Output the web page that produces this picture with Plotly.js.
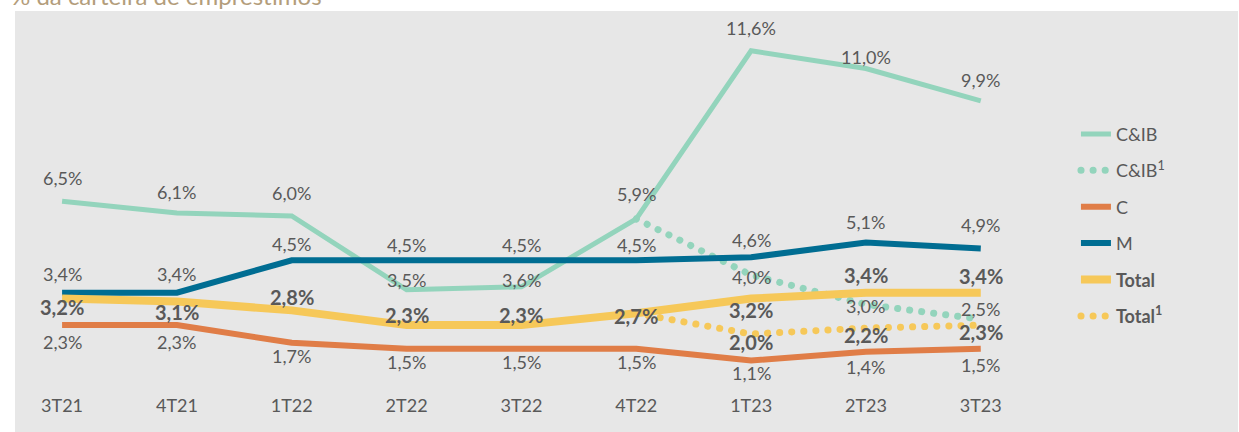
<!DOCTYPE html>
<html>
<head>
<meta charset="utf-8">
<script src="https://cdn.plot.ly/plotly-3.0.1.min.js"></script>
<style>html,body{margin:0;padding:0;background:#fff;}#chart{width:1239px;height:432px;}</style>
</head>
<body>
<div id="chart"></div>
<script>
// ---- data ----
const categories = ['3T21','4T21','1T22','2T22','3T22','4T22','1T23','2T23','3T23'];
const cib    = [6.5, 6.1, 6.0, 3.5, 3.6, 5.9, 11.6, 11.0, 9.9];
const cib1   = [null, null, null, null, null, 5.9, 4.0, 3.0, 2.5];
const cSeg   = [2.3, 2.3, 1.7, 1.5, 1.5, 1.5, 1.1, 1.4, 1.5];
const mSeg   = [3.4, 3.4, 4.5, 4.5, 4.5, 4.5, 4.6, 5.1, 4.9];
const total  = [3.2, 3.1, 2.8, 2.3, 2.3, 2.7, 3.2, 3.4, 3.4];
const total1 = [null, null, null, null, null, 2.7, 2.0, 2.2, 2.3];

// label vertical offsets in px (style only); null = no label
const cibOff    = [23, 21, 23, 10, 7, 25, 23, 12, 21];
const cib1Off   = [null, null, null, null, null, null, -2, -2, 10];
const cOff      = [-17, -17, -13, -13, -13, -13, -12, -15, -16];
const mOff      = [19, 19, 16, 15, 15, 15, 17, 21, 23];
const totalOff  = [-8, -10, 13, 10, 10, -3, -11, 18, 17];
const total1Off = [null, null, null, null, null, null, -8, -7, -7];

const txt = '#595959';
const FONT = 'Lato, "Open Sans", sans-serif';
const colCIB = '#93d4bc', colC = '#e07d47', colM = '#006d92', colT = '#f6c859';

function fmt(v){ return v.toFixed(1).replace('.', ',') + '%'; }

function labels(vals, offs, bold){
  const out = [];
  vals.forEach((v, i) => {
    if (v === null || offs[i] === null) return;
    out.push({
      x: categories[i], y: v, xref: 'x', yref: 'y',
      text: bold ? '<b>' + fmt(v) + '</b>' : fmt(v),
      showarrow: false, yshift: offs[i],
      font: {family: FONT, size: bold ? 20 : 18, color: txt}
    });
  });
  return out;
}

const traces = [
  {x: categories, y: cib, name: 'C&IB', mode: 'lines', line: {color: colCIB, width: 5}, legendgroup: 'a'},
  {x: categories, y: cib1, name: 'C&IB<sup>1</sup>', mode: 'lines', line: {color: colCIB, width: 7, dash: '0.1px,12px'}, legendgroup: 'b'},
  {x: categories, y: cSeg, name: 'C', mode: 'lines', line: {color: colC, width: 6}, legendgroup: 'c'},
  {x: categories, y: mSeg, name: 'M', mode: 'lines', line: {color: colM, width: 6}, legendgroup: 'd'},
  {x: categories, y: total, name: '<b>Total</b>', mode: 'lines', line: {color: colT, width: 8}, legendgroup: 'e'},
  {x: categories, y: total1, name: '<b>Total<sup>1</sup></b>', mode: 'lines', line: {color: colT, width: 7, dash: '0.1px,12px'}, legendgroup: 'f'}
];

const annotations = [].concat(
  labels(cib, cibOff, false),
  labels(cib1, cib1Off, false),
  labels(cSeg, cOff, false),
  labels(mSeg, mOff, false),
  labels(total, totalOff, true),
  labels(total1, total1Off, true),
  [{
    xref: 'paper', yref: 'paper', x: 0, y: 1, xanchor: 'left', yanchor: 'bottom',
    xshift: -6, yshift: -1, showarrow: false,
    text: '% da carteira de empréstimos',
    font: {family: FONT, size: 24, color: '#b39d7b'}
  }]
);

const layout = {
  width: 1239, height: 432,
  margin: {l: 15, r: 1, t: 11, b: 47},
  paper_bgcolor: '#ffffff',
  plot_bgcolor: '#e7e7e7',
  showlegend: true,
  legend: {
    x: 0.8675, xanchor: 'left', y: 0.72, yanchor: 'top',
    bgcolor: 'rgba(0,0,0,0)', tracegroupgap: 10,
    font: {family: FONT, size: 18, color: txt}
  },
  xaxis: {
    type: 'category', range: [-0.41, 10.24],
    showgrid: false, zeroline: false, showline: false, ticks: '',
    ticklabelstandoff: 8,
    tickfont: {family: FONT, size: 18, color: txt}, fixedrange: true
  },
  yaxis: {
    range: [0.27, 12.95], visible: false, showgrid: false, zeroline: false, fixedrange: true
  },
  shapes: [{
    type: 'rect', xref: 'paper', yref: 'paper', x0: 0, x1: 1, y0: -0.3, y1: 1,
    fillcolor: '#e7e7e7', line: {width: 0}, layer: 'below'
  }],
  annotations: annotations
};

Plotly.newPlot('chart', traces, layout, {displayModeBar: false, staticPlot: true}).then(() => {
  document.querySelectorAll('#chart path').forEach(p => {
    const d = p.style.strokeDasharray;
    if (d && d !== 'none' && d.indexOf('0.1') === 0) {
      p.style.strokeLinecap = 'round';
    }
  });
});
</script>
</body>
</html>
